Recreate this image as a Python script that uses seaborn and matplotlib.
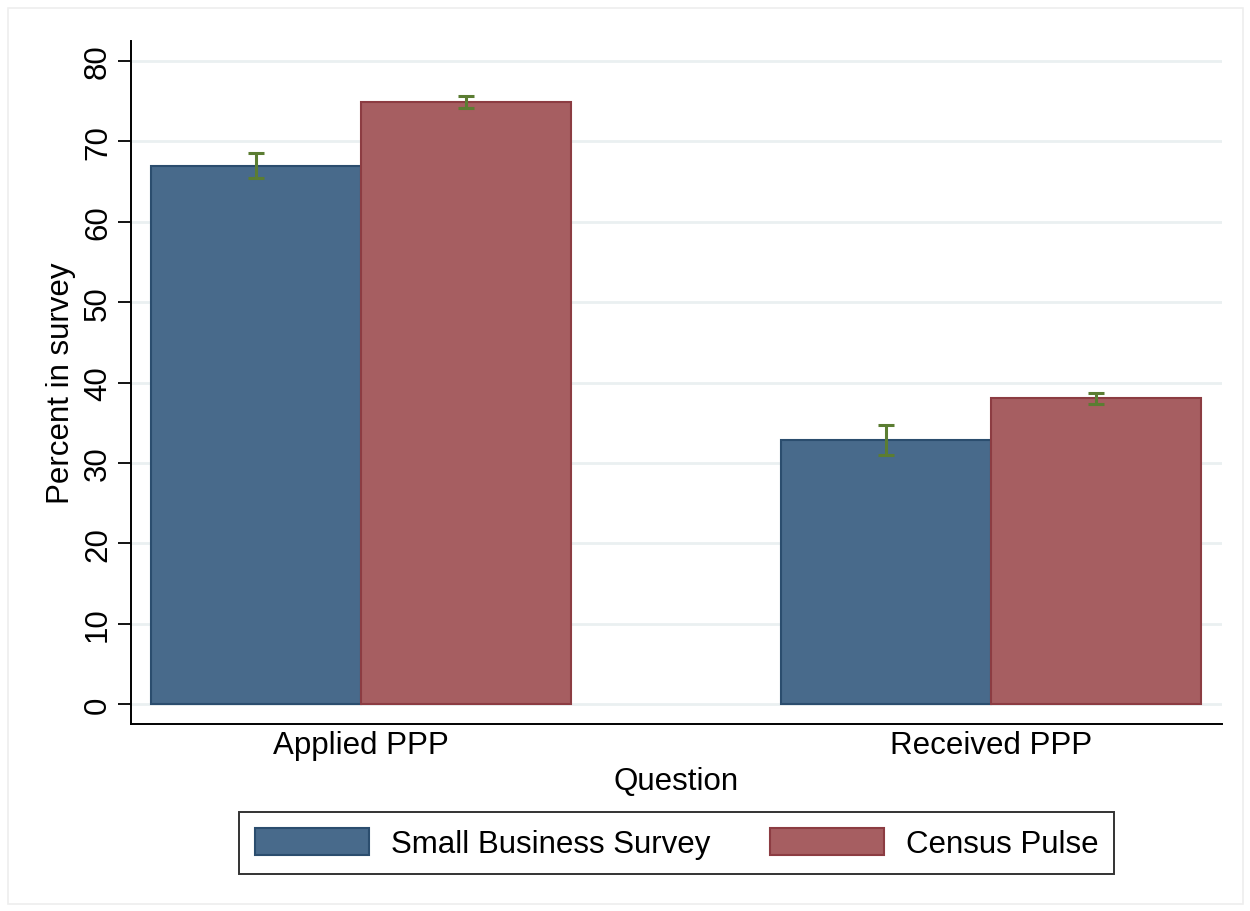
import matplotlib
matplotlib.use("Agg")
import matplotlib.pyplot as plt
import seaborn as sns
import pandas as pd
from matplotlib.patches import Rectangle

# ---- data ----
questions = ["Applied PPP", "Received PPP"]
sources = ["Small Business Survey", "Census Pulse"]
sbs_values = [66.9, 32.8]
sbs_lo = [65.4, 31.0]
sbs_hi = [68.5, 34.7]
census_values = [74.9, 38.1]
census_lo = [74.1, 37.3]
census_hi = [75.7, 38.7]
y_ticks = [0, 10, 20, 30, 40, 50, 60, 70, 80]

fill_colors = ["#486a8b", "#a65e61"]
edge_colors = ["#2b4d6e", "#8c3c42"]
err_color = "#5b7d32"

df = pd.DataFrame({
    "Question": questions * 2,
    "Source": [sources[0]] * 2 + [sources[1]] * 2,
    "Percent": sbs_values + census_values,
})
lows = [sbs_lo, census_lo]
highs = [sbs_hi, census_hi]
vals = [sbs_values, census_values]

sns.set_style("white")
plt.rcParams["font.family"] = ["Liberation Sans", "DejaVu Sans"]
plt.rcParams["text.color"] = "black"
plt.rcParams["axes.labelcolor"] = "black"
plt.rcParams["xtick.color"] = "black"
plt.rcParams["ytick.color"] = "black"
FS = 22.5

fig = plt.figure(figsize=(12.5, 9.12), dpi=100)
ax = fig.add_axes([131 / 1250, 1 - 725 / 912, 1091 / 1250, 683 / 912])

sns.barplot(data=df, x="Question", y="Percent", hue="Source", hue_order=sources,
            order=questions, palette=fill_colors, saturation=1, width=0.667,
            errorbar=None, ax=ax, linewidth=1.5, zorder=3)

bar_containers = list(ax.containers)
for i, cont in enumerate(bar_containers):
    for j, bar in enumerate(list(cont)):
        bar.set_edgecolor(edge_colors[i])
        bar.set_zorder(3)
        cx = bar.get_x() + bar.get_width() / 2
        v = vals[i][j]
        ax.errorbar([cx], [v], yerr=[[v - lows[i][j]], [highs[i][j] - v]],
                    fmt="none", ecolor=err_color, elinewidth=2.2, capsize=6,
                    capthick=2.2, zorder=4)

ax.set_xlim(-0.365, 1.367)
ax.set_ylim(-2.5, 82.5)
ax.set_yticks(y_ticks)
ax.set_yticklabels([str(t) for t in y_ticks], rotation=90, va="center", fontsize=FS)
ax.tick_params(axis="y", left=True, length=9.5, width=1.3, color="black",
               labelcolor="black", pad=3.5)
ax.tick_params(axis="x", bottom=False, length=0, pad=4, labelsize=FS,
               labelcolor="black")

for t in y_ticks:
    ax.axhline(t, color="#eaf0f1", linewidth=2, zorder=1)

for s in ["top", "right"]:
    ax.spines[s].set_visible(False)
for s in ["left", "bottom"]:
    ax.spines[s].set_color("black")
    ax.spines[s].set_linewidth(1.4)

ax.set_ylabel("Percent in survey", fontsize=FS, color="black")
ax.yaxis.set_label_coords(-0.0504, 0.5)
ax.set_xlabel("Question", fontsize=FS, color="black")
ax.xaxis.set_label_coords(0.5, -0.0615)

handles, labels = ax.get_legend_handles_labels()
if ax.get_legend() is not None:
    ax.get_legend().remove()
leg = ax.legend(handles, labels, loc="center", bbox_to_anchor=(0.5, -0.1745),
                ncol=2, fontsize=FS, frameon=True, fancybox=False,
                handlelength=3.65, handleheight=0.95, handletextpad=0.7,
                columnspacing=1.9, borderpad=0.5, borderaxespad=0)
leg.get_frame().set_edgecolor("black")
leg.get_frame().set_linewidth(1.4)
for txt in leg.get_texts():
    txt.set_color("black")
for h, ec in zip(leg.legend_handles, edge_colors):
    h.set_edgecolor(ec)

fig.patches.append(Rectangle((8 / 1250, 1 - 905 / 912), 1235 / 1250, 896 / 912,
                             transform=fig.transFigure, fill=False,
                             edgecolor="#eeeeee", linewidth=1.2))

fig.savefig("out.png", dpi=100, facecolor="white")
